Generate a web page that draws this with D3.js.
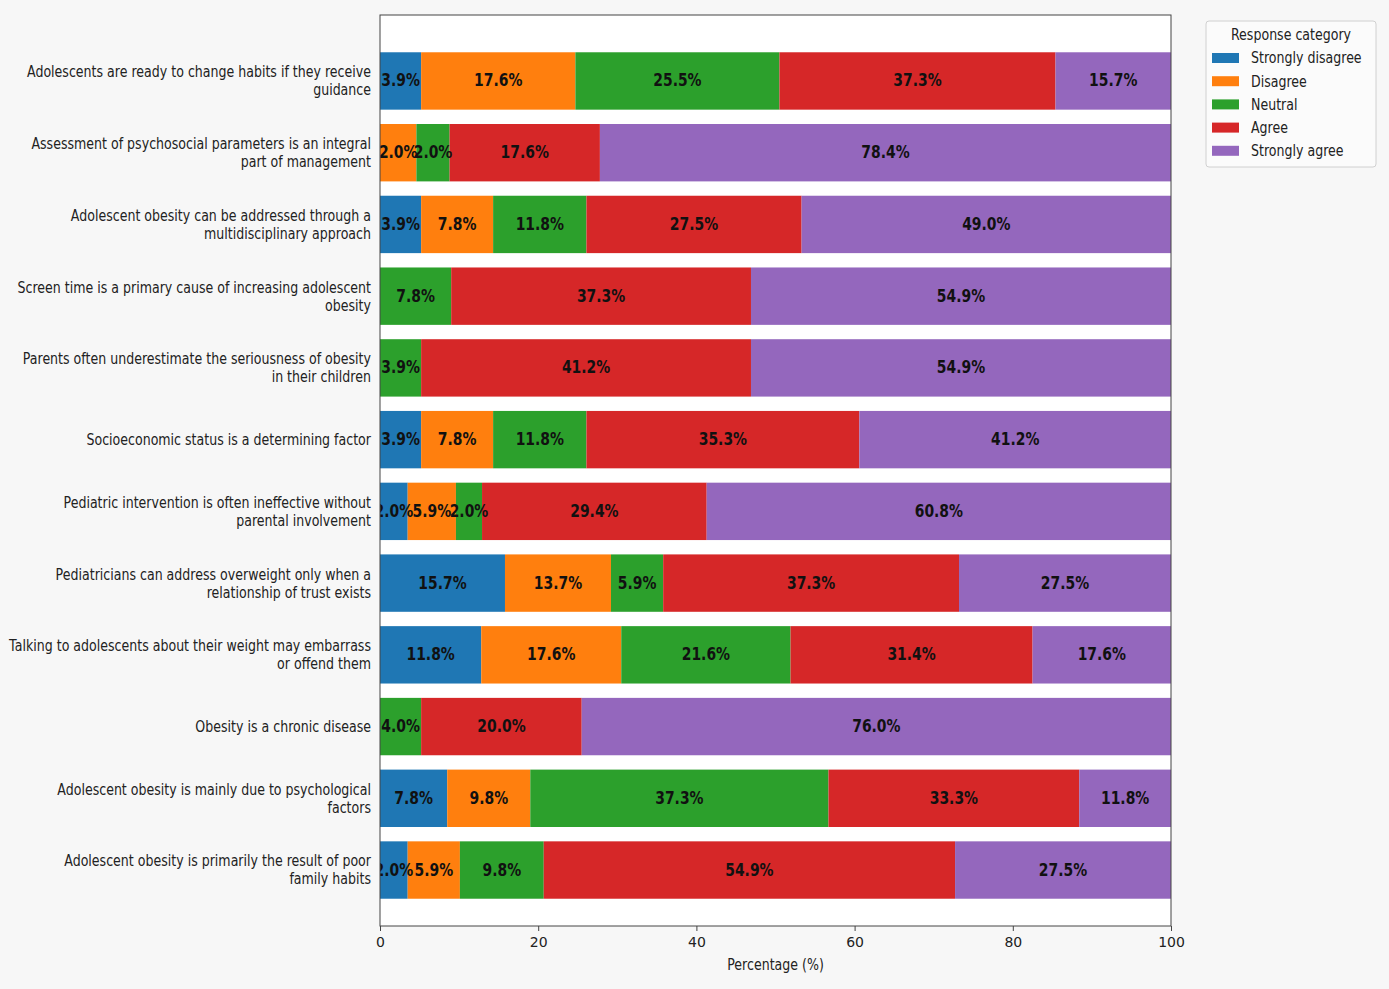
<!DOCTYPE html>
<html>
<head>
<meta charset="utf-8">
<script src="https://cdn.jsdelivr.net/npm/d3@7"></script>
<style>
  body { margin: 0; background: #f7f7f7; }
  svg { display: block; font-family: "DejaVu Sans", sans-serif; }
</style>
</head>
<body>
<svg id="chart" width="1389" height="989"></svg>
<script>
// statements, top to bottom
const statements = [
    ["Adolescents are ready to change habits if they receive", "guidance"],
    ["Assessment of psychosocial parameters is an integral", "part of management"],
    ["Adolescent obesity can be addressed through a", "multidisciplinary approach"],
    ["Screen time is a primary cause of increasing adolescent", "obesity"],
    ["Parents often underestimate the seriousness of obesity", "in their children"],
    ["Socioeconomic status is a determining factor"],
    ["Pediatric intervention is often ineffective without", "parental involvement"],
    ["Pediatricians can address overweight only when a", "relationship of trust exists"],
    ["Talking to adolescents about their weight may embarrass", "or offend them"],
    ["Obesity is a chronic disease"],
    ["Adolescent obesity is mainly due to psychological", "factors"],
    ["Adolescent obesity is primarily the result of poor", "family habits"]
];

const categories = ["Strongly disagree", "Disagree", "Neutral", "Agree", "Strongly agree"];
const colors = ["#1f77b4", "#ff7f0e", "#2ca02c", "#d62728", "#9467bd"];

// segment lengths as drawn in the picture (%)
const stronglyDisagree = [5.2, 0, 5.2, 0, 0, 5.2, 3.5, 15.8, 12.8, 0, 8.5, 3.5];
const disagree         = [19.5, 4.6, 9.1, 0, 0, 9.1, 6.1, 13.4, 17.7, 0, 10.5, 6.6];
const neutral          = [25.8, 4.2, 11.8, 9.0, 5.2, 11.8, 3.3, 6.6, 21.4, 5.2, 37.7, 10.6];
const agree            = [34.9, 19.0, 27.2, 37.9, 41.7, 34.5, 28.4, 37.4, 30.6, 20.3, 31.7, 52.0];
const stronglyAgree    = [14.6, 72.2, 46.7, 53.1, 53.1, 39.4, 58.7, 26.8, 17.5, 74.5, 11.6, 27.3];

// percentages printed on the segments
const stronglyDisagreeLabel = [3.9, 0, 3.9, 0, 0, 3.9, 2.0, 15.7, 11.8, 0, 7.8, 2.0];
const disagreeLabel         = [17.6, 2.0, 7.8, 0, 0, 7.8, 5.9, 13.7, 17.6, 0, 9.8, 5.9];
const neutralLabel          = [25.5, 2.0, 11.8, 7.8, 3.9, 11.8, 2.0, 5.9, 21.6, 4.0, 37.3, 9.8];
const agreeLabel            = [37.3, 17.6, 27.5, 37.3, 41.2, 35.3, 29.4, 37.3, 31.4, 20.0, 33.3, 54.9];
const stronglyAgreeLabel    = [15.7, 78.4, 49.0, 54.9, 54.9, 41.2, 60.8, 27.5, 17.6, 76.0, 11.8, 27.5];

const xTicks = [0, 20, 40, 60, 80, 100];

const series = [stronglyDisagree, disagree, neutral, agree, stronglyAgree];
const labels = [stronglyDisagreeLabel, disagreeLabel, neutralLabel, agreeLabel, stronglyAgreeLabel];

// build rows for d3.stack
let rows = statements.map((s, i) => {
    let row = {id: i};
    categories.forEach((c, j) => { row[c] = series[j][i]; });
    return row;
});

const svg = d3.select("#chart");
const plot = {left: 380, right: 1171, top: 15, bottom: 926};
const sx = 0.84; // horizontal squeeze of the text

const x = d3.scaleLinear().domain([0, 100]).range([plot.left, plot.right]);
const y = d3.scaleBand().domain(rows.map(d => d.id)).range([45.1, 905.9]).paddingInner(0.2).paddingOuter(0.1);

svg.append("rect").attr("x", plot.left).attr("y", plot.top)
    .attr("width", plot.right - plot.left).attr("height", plot.bottom - plot.top)
    .attr("fill", "#fff");

svg.append("clipPath").attr("id", "plotclip").append("rect")
    .attr("x", plot.left).attr("y", plot.top)
    .attr("width", plot.right - plot.left).attr("height", plot.bottom - plot.top);

const stacked = d3.stack().keys(categories)(rows);

//bars
const layers = svg.append("g").selectAll("g").data(stacked).enter().append("g")
    .attr("fill", (d, i) => colors[i]);

layers.selectAll("rect").data(d => d.filter(p => p[1] - p[0] > 0)).enter().append("rect")
    .attr("x", d => x(d[0]))
    .attr("y", d => y(d.data.id))
    .attr("width", d => x(d[1]) - x(d[0]))
    .attr("height", y.bandwidth());

//labels on bars
const labelG = svg.append("g").attr("clip-path", "url(#plotclip)");
stacked.forEach((layer, j) => {
    layer.forEach((p, i) => {
        if (p[1] - p[0] <= 0) return;
        labelG.append("text")
            .attr("transform", `translate(${x((p[0] + p[1]) / 2)},${y(i) + y.bandwidth() / 2}) scale(0.82,1)`)
            .attr("text-anchor", "middle").attr("dominant-baseline", "central")
            .attr("font-size", 17).attr("font-weight", "bold").attr("fill", "#111")
            .text(labels[j][i].toFixed(1) + "%");
    });
});

//frame
svg.append("rect").attr("x", plot.left).attr("y", plot.top)
    .attr("width", plot.right - plot.left).attr("height", plot.bottom - plot.top)
    .attr("fill", "none").attr("stroke", "#444").attr("stroke-width", 1);

//x axis
const xAxis = svg.append("g").attr("transform", `translate(0,${plot.bottom})`)
    .call(d3.axisBottom(x).tickValues(xTicks).tickSize(5).tickPadding(6).tickFormat(d3.format("d")));
xAxis.select(".domain").remove();
xAxis.selectAll("line").attr("stroke", "#444");
xAxis.selectAll("text").attr("font-size", 14).attr("fill", "#222")
    .attr("font-family", "DejaVu Sans, sans-serif");

svg.append("text")
    .attr("transform", `translate(${(plot.left + plot.right) / 2},970) scale(${sx},1)`)
    .attr("text-anchor", "middle").attr("font-size", 15).attr("fill", "#222")
    .text("Percentage (%)");

//y labels
statements.forEach((lines, i) => {
    let cy = y(i) + y.bandwidth() / 2;
    let lh = 18;
    let y0 = cy - (lines.length - 1) * lh / 2;
    lines.forEach((t, k) => {
        svg.append("text")
            .attr("transform", `translate(371,${y0 + k * lh}) scale(${sx},1)`)
            .attr("text-anchor", "end").attr("dominant-baseline", "central")
            .attr("font-size", 15).attr("fill", "#222")
            .text(t);
    });
});

//legend
const legend = svg.append("g");
legend.append("rect").attr("x", 1206).attr("y", 21).attr("width", 170).attr("height", 146)
    .attr("rx", 3).attr("fill", "#fbfbfb").attr("stroke", "#d0d0d0");
legend.append("text")
    .attr("transform", `translate(1291,35) scale(${sx},1)`)
    .attr("text-anchor", "middle").attr("dominant-baseline", "central")
    .attr("font-size", 15).attr("fill", "#222").text("Response category");
categories.forEach((c, i) => {
    let ly = 58 + i * 23.2;
    legend.append("rect").attr("x", 1212).attr("y", ly - 5).attr("width", 27).attr("height", 10)
        .attr("fill", colors[i]);
    legend.append("text")
        .attr("transform", `translate(1251,${ly}) scale(${sx},1)`)
        .attr("dominant-baseline", "central")
        .attr("font-size", 15).attr("fill", "#222").text(c);
});
</script>
</body>
</html>
